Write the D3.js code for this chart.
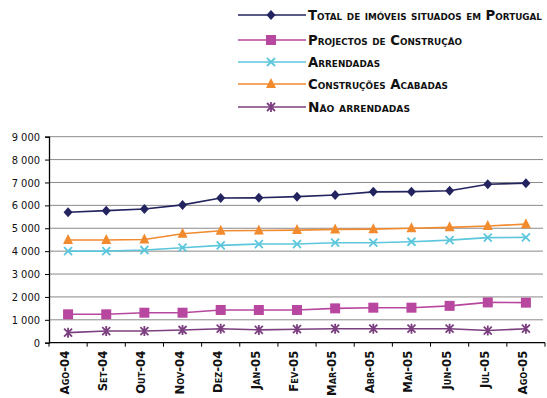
<!DOCTYPE html>
<html>
<head>
<meta charset="utf-8">
<script src="https://cdn.jsdelivr.net/npm/d3@7"></script>
<style>
  html, body { margin: 0; padding: 0; background: #fff; }
  svg { display: block; }
  .sc { font-family: "DejaVu Sans Condensed", "DejaVu Sans", sans-serif; font-variant: small-caps; font-weight: bold; }
</style>
</head>
<body>
<svg id="chart" width="547" height="398"></svg>
<script>
// Months on the x axis
const months = ["Ago-04", "Set-04", "Out-04", "Nov-04", "Dez-04", "Jan-05", "Fev-05",
                "Mar-05", "Abr-05", "Mai-05", "Jun-05", "Jul-05", "Ago-05"];

// Series values per month
const totalImoveis = [5700, 5770, 5840, 6020, 6320, 6330, 6380, 6450, 6590, 6600, 6640, 6920, 6970];
const projectos    = [1240, 1240, 1310, 1310, 1430, 1430, 1430, 1500, 1530, 1530, 1610, 1760, 1750];
const arrendadas   = [4000, 4000, 4050, 4150, 4250, 4310, 4310, 4370, 4370, 4410, 4480, 4590, 4600];
const construcoes  = [4490, 4490, 4510, 4760, 4890, 4900, 4920, 4950, 4960, 5000, 5040, 5100, 5180];
const naoArrendadas= [440, 510, 510, 555, 610, 560, 590, 610, 610, 610, 610, 530, 610];

// Y axis ticks
const yTicks = [0, 1000, 2000, 3000, 4000, 5000, 6000, 7000, 8000, 9000];

const seriesNames = ["Total de imóveis situados em Portugal", "Projectos de Construção",
                     "Arrendadas", "Construções Acabadas", "Não arrendadas"];

const series = [
  { name: seriesNames[0], values: totalImoveis,  color: "#23235f", marker: "diamond" },
  { name: seriesNames[1], values: projectos,     color: "#b8479f", marker: "square" },
  { name: seriesNames[2], values: arrendadas,    color: "#5cc6dc", marker: "cross" },
  { name: seriesNames[3], values: construcoes,   color: "#f28a2e", marker: "triangle" },
  { name: seriesNames[4], values: naoArrendadas, color: "#7b3f7f", marker: "star" }
];

const svg = d3.select("#chart");
const plotLeft = 49, plotRight = 545, plotTop = 136.7, plotBottom = 342.7;

const x = d3.scaleBand().domain(months).range([plotLeft, plotRight]);
const y = d3.scaleLinear().domain([0, 9000]).range([plotBottom, plotTop]);

// Gridlines
svg.append("g").selectAll("line").data(yTicks.filter(d => d > 0)).join("line")
  .attr("x1", plotLeft).attr("x2", 543)
  .attr("y1", d => y(d)).attr("y2", d => y(d))
  .attr("stroke", "#8a8a8a").attr("stroke-width", 1);

// Y axis
const fmt = d => d === 0 ? "0" : d3.format(",")(d).replace(",", " ");
const yAxis = svg.append("g").attr("transform", `translate(${plotLeft},0)`)
  .call(d3.axisLeft(y).tickValues(yTicks).tickFormat(fmt).tickSize(4).tickPadding(5));
yAxis.select(".domain").attr("stroke", "#000").attr("stroke-width", 1.3);
yAxis.selectAll(".tick line").attr("stroke", "#000");
yAxis.selectAll("text").attr("font-family", "'DejaVu Sans Condensed', 'DejaVu Sans', sans-serif")
  .attr("font-size", 11).attr("fill", "#111");

// X axis with ticks at category boundaries
const xAxisG = svg.append("g").attr("transform", `translate(0,${plotBottom})`);
xAxisG.append("line").attr("x1", plotLeft).attr("x2", plotRight).attr("y1", 0).attr("y2", 0)
  .attr("stroke", "#000").attr("stroke-width", 1.3);
xAxisG.selectAll("line.tk").data(d3.range(months.length + 1)).join("line").attr("class", "tk")
  .attr("x1", i => plotLeft + i * x.step()).attr("x2", i => plotLeft + i * x.step())
  .attr("y1", 0).attr("y2", 4).attr("stroke", "#000");
xAxisG.selectAll("text").data(months).join("text")
  .attr("class", "sc")
  .attr("transform", d => `translate(${x(d) + x.bandwidth() / 2 + 1},8) rotate(-90)`)
  .attr("text-anchor", "end")
  .attr("font-size", 13).attr("fill", "#111")
  .text(d => d);

// Marker drawing
function drawMarker(g, type, color) {
  if (type === "diamond") {
    g.append("path").attr("d", "M0,-5L4.5,0L0,5L-4.5,0Z").attr("fill", color);
  } else if (type === "square") {
    g.append("rect").attr("x", -5).attr("y", -5).attr("width", 10).attr("height", 10).attr("fill", color);
  } else if (type === "triangle") {
    g.append("path").attr("d", "M0,-6L5,4L-5,4Z").attr("fill", color);
  } else if (type === "cross") {
    g.append("path").attr("d", "M-4,-4L4,4M-4,4L4,-4").attr("stroke", color).attr("stroke-width", 1.8);
  } else if (type === "star") {
    g.append("path").attr("d", "M-4,-4L4,4M-4,4L4,-4M0,-5L0,5").attr("stroke", color).attr("stroke-width", 1.8);
  }
}

const line = d3.line().x((d, i) => x(months[i]) + x.bandwidth() / 2).y(d => y(d));

// Lines and markers
series.forEach(s => {
  svg.append("path").datum(s.values).attr("d", line)
    .attr("fill", "none").attr("stroke", s.color).attr("stroke-width", 1.6);
  s.values.forEach((v, i) => {
    const g = svg.append("g").attr("transform", `translate(${x(months[i]) + x.bandwidth() / 2},${y(v)})`);
    drawMarker(g, s.marker, s.color);
  });
});

// Legend
const legendY = [15, 40, 62, 84, 107];
const legendWidth = [234, 154, 72, 140, 102];
series.forEach((s, i) => {
  const g = svg.append("g").attr("transform", `translate(0,${legendY[i]})`);
  g.append("line").attr("x1", 238).attr("x2", 306).attr("y1", 0).attr("y2", 0)
    .attr("stroke", s.color).attr("stroke-width", 1.6);
  const m = g.append("g").attr("transform", "translate(271,0)");
  drawMarker(m, s.marker, s.color);
  g.append("text").attr("class", "sc").attr("x", 308).attr("y", 5)
    .attr("font-size", 13.5).attr("fill", "#111")
    .attr("textLength", legendWidth[i]).attr("lengthAdjust", "spacingAndGlyphs")
    .text(s.name);
});
</script>
</body>
</html>
